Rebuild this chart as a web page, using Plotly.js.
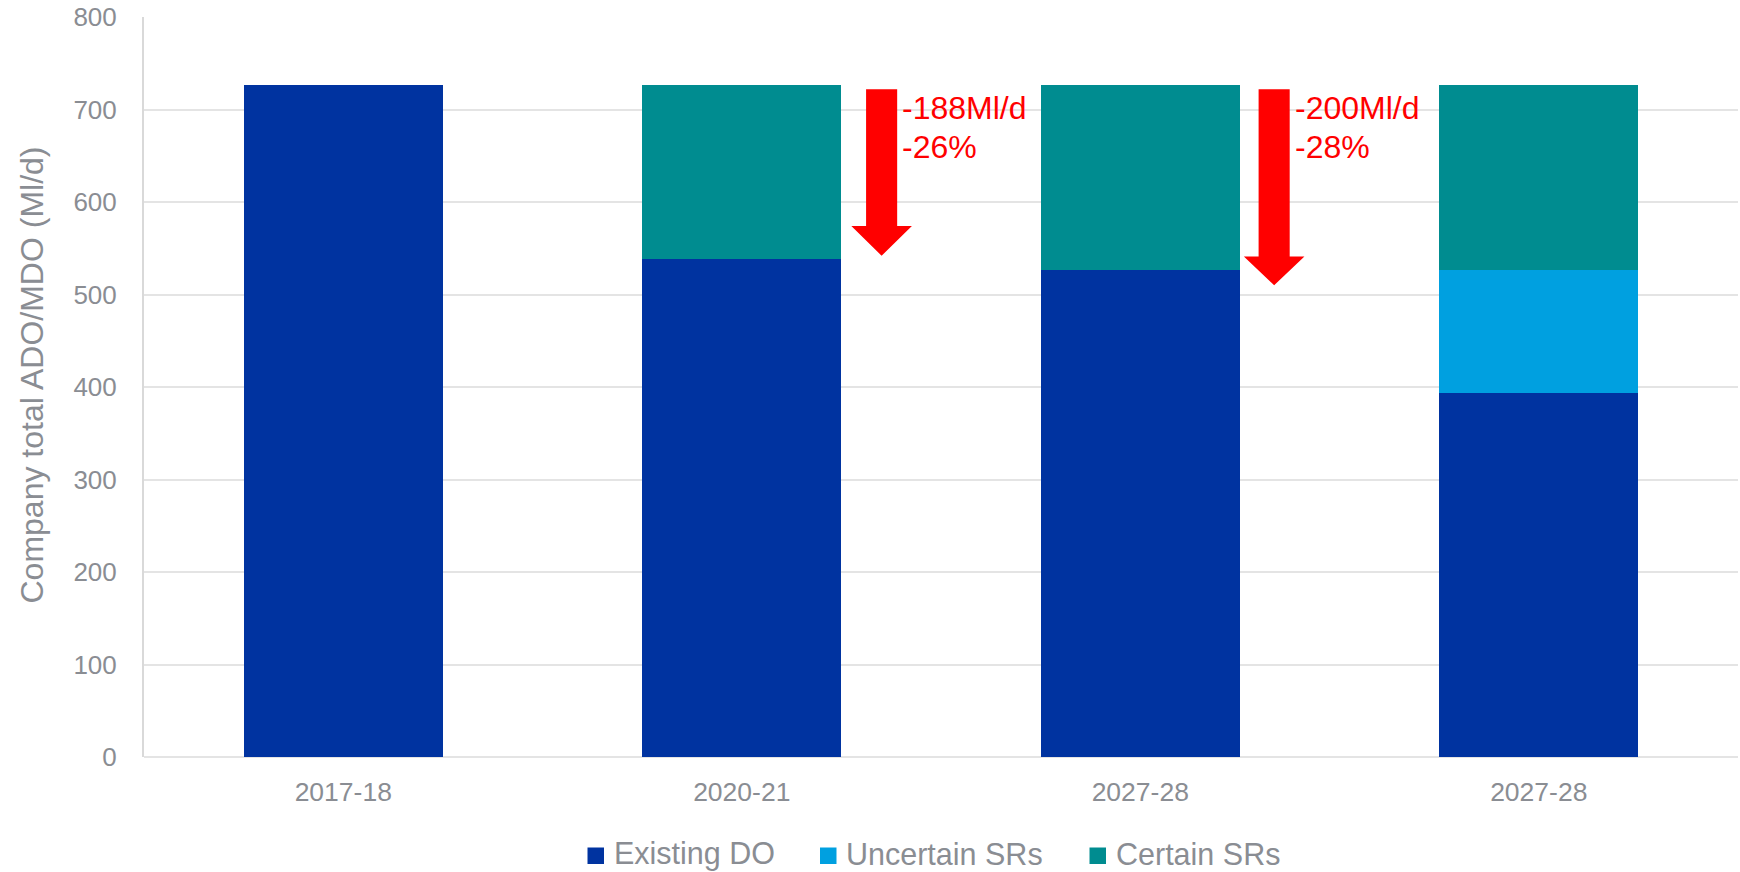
<!DOCTYPE html>
<html>
<head>
<meta charset="utf-8">
<script src="https://cdn.plot.ly/plotly-3.0.1.min.js"></script>
<style>
  html, body { margin: 0; padding: 0; background: #ffffff; }
  #chart { width: 1740px; height: 872px; }
</style>
</head>
<body>
<div id="chart"></div>
<script>
// Company deployable output by scenario year (Ml/d)
const periods = ['2017-18', '2020-21', '2027-28', '2027-28'];
const existingDO = [726, 538, 526, 394];
const uncertainSRs = [0, 0, 0, 132];
const certainSRs = [0, 188, 200, 200];
const seriesNames = ['Existing DO', 'Uncertain SRs', 'Certain SRs'];
const yTicks = [0, 100, 200, 300, 400, 500, 600, 700, 800];
const yTitle = 'Company total ADO/MDO (Ml/d)';

const seriesColors = ['#0033A0', '#00A0E0', '#008C90'];
const dropColor = '#FF0000';
const grey = '#8A8D93';
const font = 'Liberation Sans, Arial, sans-serif';

// page geometry (pixels) used to place the hand-built legend and title
const W = 1740, H = 872;
const M = { l: 144, r: 2, t: 17, b: 115 };
const plotW = W - M.l - M.r, plotH = H - M.t - M.b;
const pxX = px => (px - M.l) / plotW;
const pxY = py => (H - M.b - py) / plotH;

// bars sit on numeric positions so repeated period labels stay separate
const xPos = periods.map((_, i) => i);

const seriesValues = [existingDO, uncertainSRs, certainSRs];
const traces = seriesValues.map((vals, k) => ({
  type: 'bar',
  x: xPos,
  y: vals,
  name: seriesNames[k],
  marker: { color: seriesColors[k], line: { width: 0 } },
  showlegend: false,
  hoverinfo: 'skip'
}));

// downward arrow drawn in data units: centre x, top, head base, tip
function arrowPath(xc, yTop, yHead, yTip, shaftHalf, headHalf) {
  return 'M ' + (xc - shaftHalf) + ',' + yTop +
         ' L ' + (xc + shaftHalf) + ',' + yTop +
         ' L ' + (xc + shaftHalf) + ',' + yHead +
         ' L ' + (xc + headHalf) + ',' + yHead +
         ' L ' + xc + ',' + yTip +
         ' L ' + (xc - headHalf) + ',' + yHead +
         ' L ' + (xc - shaftHalf) + ',' + yHead + ' Z';
}

const shapes = [
  { type: 'path', xref: 'x', yref: 'y', path: arrowPath(1.351, 722, 574, 542, 0.039, 0.076),
    fillcolor: dropColor, line: { width: 0 } },
  { type: 'path', xref: 'x', yref: 'y', path: arrowPath(2.336, 722, 541, 510, 0.039, 0.076),
    fillcolor: dropColor, line: { width: 0 } }
];

// reduction labels computed from the stacked values
function dropLines(i) {
  const total = existingDO[0];
  const drop = total - existingDO[i] - uncertainSRs[i];
  return ['-' + drop + 'Ml/d', '-' + Math.round(drop / total * 100) + '%'];
}

const annotations = [];
[[1, 1.397], [2, 2.384]].forEach(([i, xLeft]) => {
  dropLines(i).forEach((line, j) => {
    annotations.push({
      xref: 'x', yref: 'y', x: xLeft, y: j === 0 ? 701.5 : 659,
      xanchor: 'left', yanchor: 'middle', align: 'left', showarrow: false,
      text: line, font: { family: font, size: 32, color: dropColor }
    });
  });
});

// vertical axis title
annotations.push({
  xref: 'paper', yref: 'paper', x: pxX(31.5), y: pxY(375),
  xanchor: 'center', yanchor: 'middle', textangle: -90, showarrow: false,
  text: yTitle, font: { family: font, size: 32, color: grey }
});

// legend: swatch + label for each series
const legendSwatchLeft = [587.5, 820, 1089.5];
const legendTextLeft = [611.5, 843.5, 1113.5];
seriesNames.forEach((name, k) => {
  shapes.push({
    type: 'rect', xref: 'paper', yref: 'paper',
    x0: pxX(legendSwatchLeft[k]), x1: pxX(legendSwatchLeft[k] + 16.5),
    y0: pxY(864), y1: pxY(847.5),
    fillcolor: seriesColors[k], line: { width: 0 }
  });
  annotations.push({
    xref: 'paper', yref: 'paper', x: pxX(legendTextLeft[k]), y: pxY(854),
    xanchor: 'left', yanchor: 'middle', showarrow: false,
    text: name, font: { family: font, size: 30.5, color: grey }
  });
});

const layout = {
  width: W,
  height: H,
  margin: M,
  paper_bgcolor: '#ffffff',
  plot_bgcolor: '#ffffff',
  barmode: 'stack',
  bargap: 0.5,
  font: { family: font, color: grey },
  showlegend: false,
  xaxis: {
    range: [-0.5, 3.5],
    tickmode: 'array',
    tickvals: xPos,
    ticktext: periods,
    showgrid: false,
    zeroline: false,
    showline: false,
    ticks: '',
    ticklabelstandoff: 16,
    tickfont: { family: font, size: 26.5, color: grey },
    fixedrange: true
  },
  yaxis: {
    range: [0, 800],
    tickmode: 'array',
    tickvals: yTicks,
    showgrid: true,
    gridcolor: '#E4E4E4',
    gridwidth: 1.5,
    zeroline: true,
    zerolinecolor: '#E4E4E4',
    zerolinewidth: 2,
    showline: true,
    linecolor: '#D9D9D9',
    linewidth: 2,
    ticks: '',
    ticklabelstandoff: 20,
    tickfont: { family: font, size: 26, color: grey },
    automargin: false,
    fixedrange: true
  },
  shapes: shapes,
  annotations: annotations
};

Plotly.newPlot('chart', traces, layout, { displayModeBar: false, responsive: false });
</script>
</body>
</html>
